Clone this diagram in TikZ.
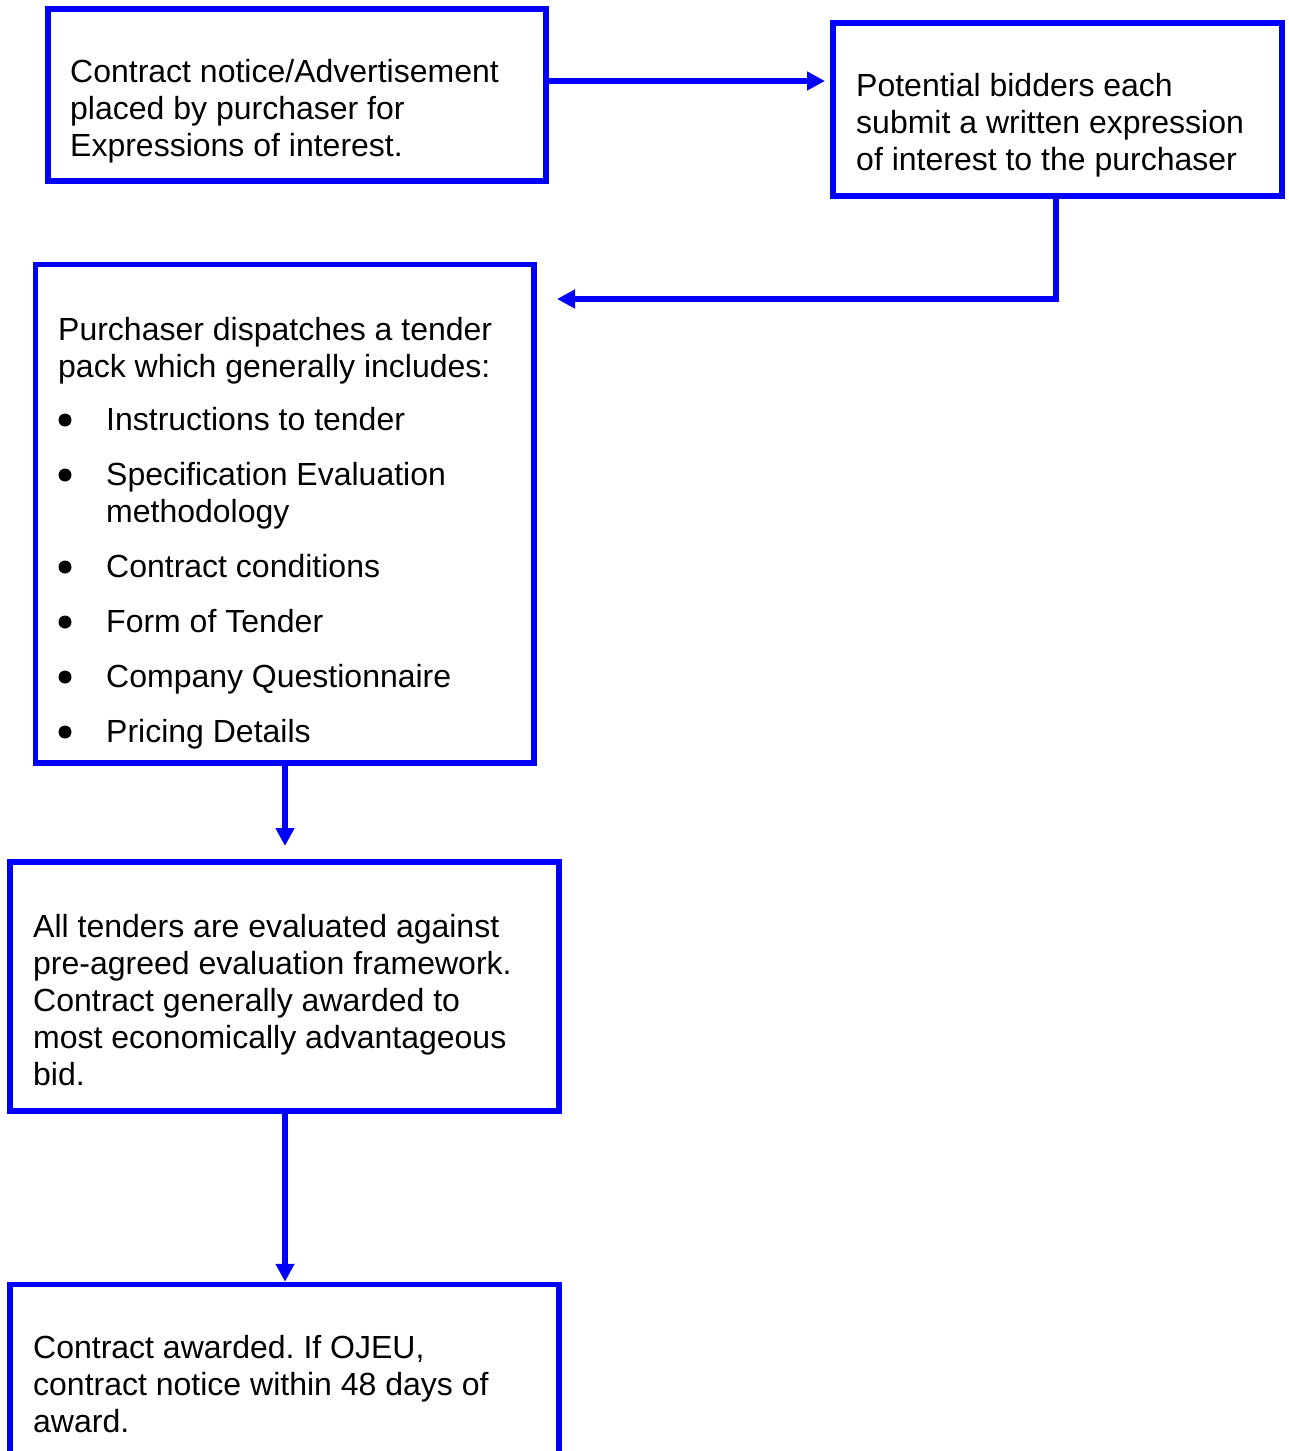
\documentclass[tikz,border=0pt]{standalone}
\usepackage{fontspec}
\setmainfont{Liberation Sans}
\usetikzlibrary{arrows.meta}
\definecolor{boxblue}{RGB}{0,0,255}
\frenchspacing
\tikzset{
  boxnode/.style={draw=boxblue, line width=5.5pt, rectangle, inner sep=0pt, outer sep=2.75pt, anchor=north west},
  txt/.style={anchor=base west, inner sep=0pt, font=\fontsize{32}{37}\selectfont, text=black},
  arr/.style={draw=boxblue, line width=5.5pt, -{Triangle[length=18pt,width=18pt]}},
  bul/.style={fill=black}
}
\begin{document}
\begin{tikzpicture}[x=1pt,y=-1pt]
\useasboundingbox (0,0) rectangle (1288,1451);
% boxes (positions are outer corners)
\node[boxnode, minimum width=498pt, minimum height=172pt] (b1) at (45.25,6.25) {};
\node[boxnode, minimum width=449pt, minimum height=173pt] (b2) at (830.25,20.25) {};
\node[boxnode, minimum width=498.5pt, minimum height=498.5pt] (b3) at (32.75,261.75) {};
\node[boxnode, minimum width=549pt, minimum height=249pt] (b4) at (7.25,859.25) {};
\node[boxnode, minimum width=549pt, minimum height=300pt] (b5) at (7.25,1281.75) {};
% box 1 text
\node[txt] (b1a) at (70,82) {Contract notice/Advertisement};
\node[txt] (b1b) at (70,119) {placed by purchaser for};
\node[txt] (b1c) at (70,156) {Expressions of interest.};
% box 2 text
\node[txt] (b2a) at (856,96) {Potential bidders each};
\node[txt] (b2b) at (856,133) {submit a written expression};
\node[txt] (b2c) at (856,170) {of interest to the purchaser};
% box 3 text
\node[txt] (b3a) at (58,340) {Purchaser dispatches a tender};
\node[txt] (b3b) at (58,377) {pack which generally includes:};
\node[txt] (b3c) at (106,430) {Instructions to tender};
\node[txt] (b3d) at (106,485) {Specification Evaluation};
\node[txt] (b3e) at (106,522) {methodology};
\node[txt] (b3f) at (106,577) {Contract conditions};
\node[txt] (b3g) at (106,632) {Form of Tender};
\node[txt] (b3h) at (106,687) {Company Questionnaire};
\node[txt] (b3i) at (106,742) {Pricing Details};
\foreach \yy in {430,485,577,632,687,742} {
  \fill[bul] (65,\yy-10) circle (6.5);
}
% box 4 text
\node[txt] (b4a) at (33,937) {All tenders are evaluated against};
\node[txt] (b4b) at (33,974) {pre-agreed evaluation framework.};
\node[txt] (b4c) at (33,1011) {Contract generally awarded to};
\node[txt] (b4d) at (33,1048) {most economically advantageous};
\node[txt] (b4e) at (33,1085) {bid.};
% box 5 text
\node[txt] (b5a) at (33,1358) {Contract awarded. If OJEU,};
\node[txt] (b5b) at (33,1395) {contract notice within 48 days of};
\node[txt] (b5c) at (33,1432) {award.};
% connectors
\coordinate (t1) at (825,81);
\draw[arr] (t1 -| b1.east) -- (t1);
\coordinate (k2) at (1056,299);
\coordinate (t2) at (557,299);
\draw[arr] (k2 |- b2.south) -- (k2) -- (t2);
\coordinate (t3) at (285,846);
\draw[arr] (t3 |- b3.south) -- (t3);
\draw[arr] (b4.south -| 285,0) -- (b5.north -| 285,0);
\end{tikzpicture}
\end{document}
